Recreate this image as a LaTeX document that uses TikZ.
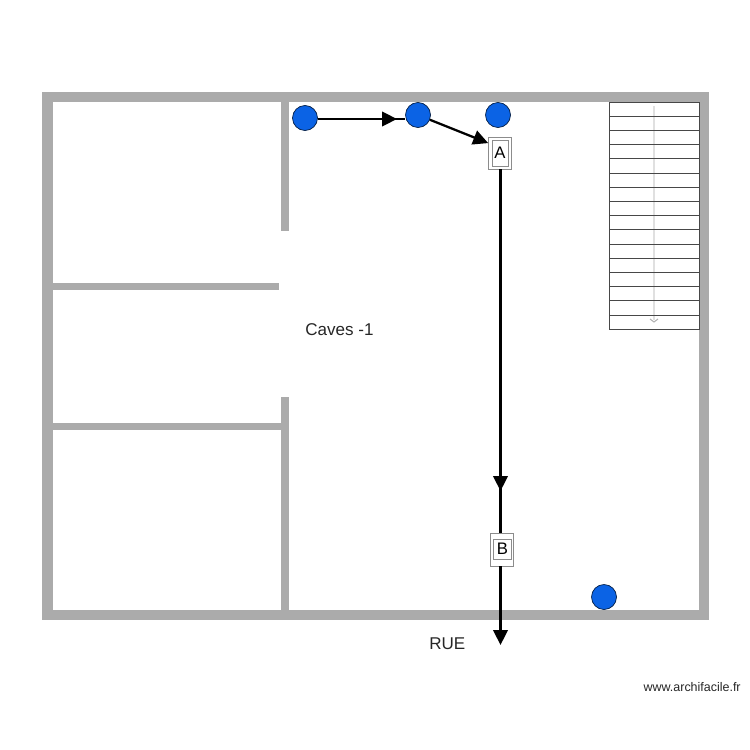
\documentclass[tikz,border=0pt]{standalone}
\usepackage{fontspec}
\setmainfont{Liberation Sans}
\usetikzlibrary{arrows.meta}
\definecolor{wallgray}{HTML}{ABABAB}
\definecolor{pointblue}{HTML}{0B63E5}
\tikzset{
    wall/.style={fill=wallgray, draw=none},
    point/.style={circle, fill=pointblue, draw=black!70!pointblue, line width=0.4pt, minimum size=0.5cm, inner sep=0pt},
    outerbox/.style={draw=black!45, line width=0.35pt, fill=white, minimum width=0.46cm, inner sep=0pt},
    innerbox/.style={draw=black!45, line width=0.35pt, inner sep=0pt, font=\fontsize{9.5}{10}\selectfont},
    flow/.style={line width=1.3pt, black, -{Triangle[length=0.3cm, width=0.29cm]}},
    plain/.style={line width=1.3pt, black},
    label/.style={inner sep=0pt, text=black!85, font=\fontsize{9.7}{11}\selectfont},
}
\begin{document}
\begin{tikzpicture}[x=0.02cm, y=-0.02cm]
        \useasboundingbox (0, 0) rectangle (750, 750);
        % walls
        \fill[wall] (42, 92) rectangle (709, 102);
        \fill[wall] (42, 610) rectangle (709, 620);
        \fill[wall] (42, 92) rectangle (53, 620);
        \fill[wall] (699, 92) rectangle (709, 620);
        \fill[wall] (281, 102) rectangle (289, 231);
        \fill[wall] (281, 397) rectangle (289, 610);
        \fill[wall] (53, 283) rectangle (279, 290);
        \fill[wall] (53, 423) rectangle (281, 430);
        % stairs
        \draw[black!12, line width=1pt] (654, 106) -- (654, 320);
        \draw[black!30, line width=0.6pt] (650, 319) -- (654, 322) -- (658, 319);
        \foreach \i in {1,...,15} {
            \draw[black!72, line width=0.5pt] (609, 102 + 14.2*\i) -- (699, 102 + 14.2*\i);
        }
        \draw[black!72, line width=0.5pt] (609, 102) rectangle (699, 329);
        % points
        \node[point] (p1) at (305, 118) {};
        \node[point] (p2) at (418, 115) {};
        \node[point] (p3) at (498, 115) {};
        \node[point] (p4) at (604, 597) {};
        % boxes
        \node[outerbox, minimum height=0.64cm] (boxa) at (500, 153) {};
        \node[innerbox, minimum width=0.32cm, minimum height=0.52cm] (laba) at (500, 153) {A};
        \node[outerbox, minimum height=0.66cm] (boxb) at (501.5, 549.5) {};
        \node[innerbox, minimum width=0.36cm, minimum height=0.4cm] (labb) at (502.5, 549) {B};
        % connectors
        \coordinate (m1) at (397, 119);
        \coordinate (m2) at (500.5, 491);
        \coordinate (rue) at (500.5, 645);
        \draw[plain] (p1.east |- m1) -- (p2.west |- m1);
        \draw[flow] (p1.east |- m1) -- (m1);
        \draw[flow] (p2) -- (boxa.140);
        \draw[plain] (boxa.south -| m2) -- (boxb.north -| m2);
        \draw[flow] (boxa.south -| m2) -- (m2);
        \draw[flow] (boxb.south -| rue) -- (rue);
        % labels
        \node[label, anchor=west] (caves) at (305, 330) {Caves -1};
        \node[label, anchor=west] (ruelab) at (429, 644) {RUE};
        \node[label, anchor=east, font=\fontsize{7.1}{9}\selectfont] (site) at (741, 687) {www.archifacile.fr};
    \end{tikzpicture}
\end{document}
